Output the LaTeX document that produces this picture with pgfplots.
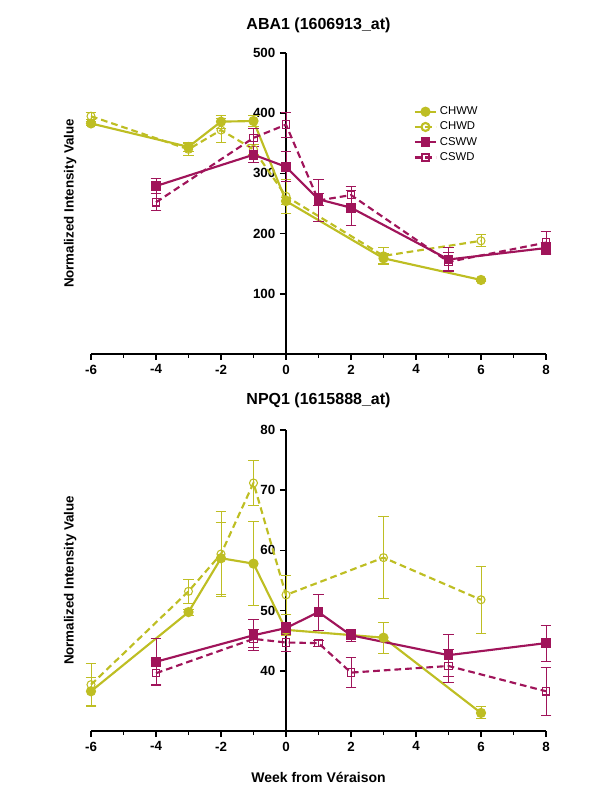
\documentclass[border=0pt]{standalone}
\usepackage{pgfplots}
\pgfplotsset{compat=1.18}
\usepackage{fontspec}
\setmainfont{Liberation Sans}

\definecolor{olivey}{RGB}{190,190,35}
\definecolor{plum}{RGB}{160,20,90}

\pgfplotsset{
  panel/.style={
    scale only axis, width=341.25pt, height=225.75pt,
    anchor=south west,
    axis x line=bottom, axis y line=middle,
    axis line style={-, line width=1.2pt},
    xmin=-6, xmax=8, xtick={-6,-4,...,8}, minor xtick={-5,-3,...,7},
    enlargelimits=false, clip=false,
    tick align=outside,
    major tick length=4.5pt, minor tick length=3pt,
    every tick/.style={black, line width=1.2pt},
    /pgf/number format/assume math mode=true,
    tick label style={font=\bfseries\fontsize{10}{12}\selectfont},
    every axis y label/.style={at={(axis description cs:-0.046,0.5)}, rotate=90, anchor=center,
      font=\bfseries\fontsize{10}{12}\selectfont},
    ylabel={Normalized Intensity Value},
    title style={at={(axis description cs:0.5,1)}, anchor=center, font=\bfseries\fontsize{12}{14}\selectfont},
    error bars/y dir=both, error bars/y explicit,
    error bars/error bar style={line width=0.7pt, solid},
    error bars/error mark options={rotate=90, mark size=4pt, line width=0.7pt},
  },
  chww/.style={olivey, line width=1.6pt, mark=*, mark size=3pt, mark options={solid}},
  chwd/.style={olivey, line width=1.6pt, dash pattern=on 5pt off 3pt, mark=o, mark size=3pt,
    mark options={solid, fill=white, line width=0.8pt}},
  csww/.style={plum, line width=1.6pt, mark=square*, mark size=2.8pt, mark options={solid}},
  cswd/.style={plum, line width=1.6pt, dash pattern=on 5pt off 3pt, mark=square, mark size=2.8pt,
    mark options={solid, fill=white, line width=0.8pt}},
}

\begin{document}
\begin{tikzpicture}
\useasboundingbox (0,0) rectangle (450pt,600pt);

% ABA1
\begin{axis}[panel, at={(68.25pt,334.5pt)},
  ymin=0, ymax=500, ytick={100,200,...,500},
  title={ABA1 (1606913\_at)}, title style={yshift=15pt},
  legend style={at={(0.70,0.84)}, anchor=north west, draw=none, fill=none,
    font=\fontsize{8.5}{10}\selectfont, row sep=0pt},
  legend cell align=left,
  legend image post style={mark options={solid}},
  legend image code/.code={
    \draw[#1, mark repeat=2, mark phase=2] plot coordinates {(0pt,0pt) (8pt,0pt) (16pt,0pt)};},
]
\addplot[chww] coordinates {
  (-6,383) +- (0,4) (-3,344) +- (0,8) (-2,386) +- (0,11) (-1,387) +- (0,9)
  (0,254) +- (0,6) (3,159) +- (0,8) (6,123) +- (0,3)};
\addlegendentry{CHWW}
\addplot[chwd] coordinates {
  (-6,395) +- (0,6) (-3,340) +- (0,10) (-2,372) +- (0,20) (-1,340) +- (0,8)
  (0,262) +- (0,28) (3,163) +- (0,14) (6,188) +- (0,10)};
\addlegendentry{CHWD}
\addplot[csww] coordinates {
  (-4,279) +- (0,12) (-1,331) +- (0,13) (0,311) +- (0,25) (1,257) +- (0,10)
  (2,243) +- (0,29) (5,157) +- (0,20) (8,176) +- (0,10)};
\addlegendentry{CSWW}
\addplot[cswd] coordinates {
  (-4,252) +- (0,14) (-1,359) +- (0,15) (0,381) +- (0,21) (1,255) +- (0,35)
  (2,264) +- (0,15) (5,153) +- (0,15) (8,185) +- (0,18)};
\addlegendentry{CSWD}
\end{axis}

% NPQ1
\begin{axis}[panel, at={(68.25pt,51.75pt)},
  ymin=30, ymax=80, ytick={40,50,...,80},
  title={NPQ1 (1615888\_at)}, title style={yshift=16.5pt},
  xlabel={Week from Véraison},
  every axis x label/.style={at={(axis description cs:0.5,0)}, anchor=center, yshift=-35pt,
    font=\bfseries\fontsize{10.5}{12}\selectfont},
]
\addplot[chww] coordinates {
  (-6,36.6) +- (0,2.3) (-3,49.75) +- (0,0.5) (-2,58.7) +- (0,6) (-1,57.8) +- (0,7)
  (0,46.8) +- (0,1) (3,45.5) +- (0,2.6) (6,33.0) +- (0,1)};
\addplot[chwd] coordinates {
  (-6,37.7) +- (0,3.6) (-3,53.2) +- (0,2) (-2,59.4) +- (0,7) (-1,71.2) +- (0,3.8)
  (0,52.6) +- (0,3.2) (3,58.8) +- (0,6.8) (6,51.8) +- (0,5.6)};
\addplot[csww] coordinates {
  (-4,41.5) +- (0,3.8) (-1,45.9) +- (0,2.6) (0,47.1) +- (0,1) (1,49.75) +- (0,3)
  (2,45.9) +- (0,1) (5,42.6) +- (0,3.5) (8,44.6) +- (0,3)};
\addplot[cswd] coordinates {
  (-4,39.6) +- (0,2.1) (-1,45.3) +- (0,1.5) (0,44.7) +- (0,1.5) (1,44.6) +- (0,0.5)
  (2,39.7) +- (0,2.5) (5,40.8) +- (0,2.8) (8,36.6) +- (0,4)};
\end{axis}
\end{tikzpicture}
\end{document}
